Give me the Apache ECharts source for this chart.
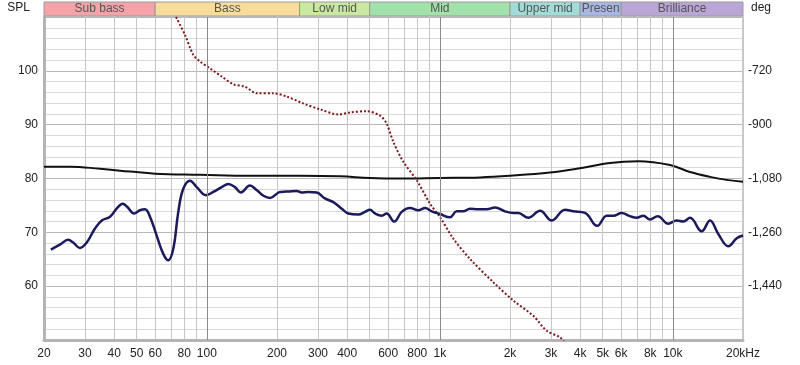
<!DOCTYPE html>
<html>
<head>
<meta charset="utf-8">
<script src="https://cdn.jsdelivr.net/npm/echarts@6/dist/echarts.min.js"></script>
<style>html,body{margin:0;padding:0;background:#fff}#c{width:800px;height:365px}</style>
</head>
<body>
<div id="c"></div>
<script>
// Frequency (Hz) and SPL (dB) of measured response
const splFreq = [21.4,23.4,25.4,26.7,28.5,30.5,33.1,35.4,38.4,41.0,43.5,45.6,48.7,51.6,54.3,57.0,60.9,65.0,68.3,71.8,75.4,79.2,84.7,90.5,99.2,106.6,115.8,123.6,132,140,153,164,175,187,203,209,224,243,255,272,296,321,349,379,405,447,477,501,527,563,591,637,686,745,808,864,923,1001,1105,1181,1261,1347,1462,1589,1725,1903,2066,2171,2396,2690,3020,3444,3738,4196,4738,5200,5550,6032,6546,6998,7468,7979,8610,9560,10388,11086,11846,13296,14436,15668,17298,18796,20000];
const splValues = [66.8,67.7,68.6,68.1,67.1,68.1,70.7,72.2,72.9,74.4,75.3,74.7,73.5,74.1,74.3,72.9,69.4,66.0,64.8,67.0,73.8,78.1,79.6,78.4,76.9,77.5,78.4,79.0,78.4,77.4,78.7,77.8,76.8,76.4,77.4,77.5,77.6,77.7,77.4,77.5,77.4,76.3,75.6,74.4,73.5,73.3,73.8,74.2,73.5,73.1,73.5,72.0,73.8,74.5,74.1,74.5,73.9,73.4,72.8,73.9,73.9,74.4,74.3,74.3,74.6,73.9,73.6,73.6,72.7,74.0,72.2,74.2,73.9,73.6,71.2,73.1,73.1,73.6,73.0,72.7,73.1,72.4,73.0,71.6,72.2,72.0,72.7,70.2,72.2,69.7,67.4,68.9,69.4];

// Smooth reference level curve
const levelFreq = [20,25.9,34.8,46.8,59.9,93.5,153,251,373,501,674,1001,1487,2000,2970,3866,5374,7106,9720,11846,14436,17300,20000];
const levelValues = [82.2,82.2,81.8,81.3,80.9,80.7,80.5,80.5,80.4,80.1,80.0,80.1,80.2,80.5,81.1,81.8,82.9,83.2,82.5,81.2,80.3,79.7,79.4];

// Phase (deg)
const phaseFreq = [73.7,80.6,87.5,93.5,103.2,115.8,129.9,145.8,164,192.8,220,259,306,367,412,485,554,591,631,697,796,907,1001,1142,1347,1696,2066,2518,2874,3278,3444];
const phaseValues = [-540,-600,-667,-689,-712,-739,-765,-773,-795,-795,-806,-829,-849,-866,-859,-855,-870,-896,-957,-1024,-1086,-1164,-1209,-1281,-1349,-1427,-1488,-1539,-1589,-1611,-1630];

// Frequency bands
const bandNames = ['Sub bass','Bass','Low mid','Mid','Upper mid','Presen','Brilliance'];
const bandEdges = [20,60,250,500,2000,4000,6000,20000];
const bandColors = ['#f5a3a8','#f8dc9c','#c9e8a2','#a2e2aa','#a2dcd8','#a8b6e4','#b9a6d6'];

// Axis ticks
const xLabelValues = [20,30,40,50,60,80,100,200,300,400,600,800,1000,2000,3000,4000,5000,6000,8000,10000,20000];
const xGridValues = [30,40,50,60,70,80,90,200,300,400,500,600,700,800,900,2000,3000,4000,5000,6000,7000,8000,9000];
const xDecades = [100,1000,10000];

const zip = (a, b) => a.map((v, i) => [v, b[i]]);
const font = 'Liberation Sans, Arial, sans-serif';

const chart = echarts.init(document.getElementById('c'), null, {renderer: 'canvas'});
chart.setOption({
  animation: false,
  backgroundColor: '#fff',
  textStyle: {fontFamily: font},
  grid: [
    {left: 44, right: 57, top: 17, bottom: 25, show: true, borderColor: '#b0b0b0', borderWidth: 1},
    {left: 44, right: 57, top: 2, height: 14}
  ],
  xAxis: [
    {
      type: 'log', logBase: 10, min: 20, max: 20000, gridIndex: 0,
      axisLine: {show: true, lineStyle: {color: '#b4b4b4', width: 3}},
      axisTick: {show: false, customValues: xGridValues},
      axisLabel: {
        customValues: xLabelValues, color: '#222', fontSize: 12, margin: 8, fontFamily: font,
        formatter: v => v >= 20000 ? '20kHz' : (v >= 1000 ? (v / 1000) + 'k' : String(v))
      },
      splitLine: {show: true, lineStyle: {color: '#c6c6c6', width: 1}},
      minorSplitLine: {show: false}
    },
    {type: 'log', logBase: 10, min: 20, max: 20000, gridIndex: 1, show: false}
  ],
  yAxis: [
    {
      type: 'value', min: 50, max: 110, interval: 10, gridIndex: 0,
      name: 'SPL', nameLocation: 'end', nameGap: 3,
      nameTextStyle: {color: '#222', fontSize: 12, align: 'right', padding: [0, 14, 0, 0], fontFamily: font},
      axisLine: {show: true, lineStyle: {color: '#b4b4b4', width: 3}},
      axisTick: {show: false},
      axisLabel: {color: '#222', fontSize: 12, margin: 6, showMinLabel: false, showMaxLabel: false, fontFamily: font},
      splitLine: {show: true, lineStyle: {color: '#b8b8b8', width: 1}},
      minorTick: {show: false, splitNumber: 5},
      minorSplitLine: {show: true, lineStyle: {color: '#d9d9d9', width: 1}}
    },
    {
      type: 'value', min: -1620, max: -540, interval: 180, gridIndex: 0, position: 'right',
      name: 'deg', nameLocation: 'end', nameGap: 3,
      nameTextStyle: {color: '#222', fontSize: 12, align: 'left', padding: [0, 0, 0, 8], fontFamily: font},
      axisLine: {show: true, lineStyle: {color: '#c8c8c8', width: 2}},
      axisTick: {show: false},
      axisLabel: {color: '#222', fontSize: 12, margin: 5, showMinLabel: false, showMaxLabel: false, fontFamily: font,
        formatter: v => v.toLocaleString('en-US')},
      splitLine: {show: false}
    },
    {type: 'value', min: 0, max: 1, gridIndex: 1, show: false}
  ],
  series: [
    {
      type: 'line', xAxisIndex: 0, yAxisIndex: 0, data: [], silent: true,
      markLine: {
        silent: true, symbol: 'none', label: {show: false},
        lineStyle: {color: '#8a8a8a', width: 1, type: 'solid'},
        data: xDecades.map(v => ({xAxis: v}))
      }
    },
    {
      type: 'line', xAxisIndex: 1, yAxisIndex: 2, data: [], silent: true,
      markArea: {
        silent: true,
        label: {show: true, position: 'inside', color: '#555', fontSize: 12, fontFamily: font},
        itemStyle: {borderColor: '#9a9a9a', borderWidth: 1},
        data: bandNames.map((n, i) => [
          {name: n, xAxis: bandEdges[i], yAxis: 0, itemStyle: {color: bandColors[i], borderColor: '#9a9a9a', borderWidth: 1}},
          {xAxis: bandEdges[i + 1], yAxis: 1}
        ])
      }
    },
    {
      name: 'Level', type: 'line', xAxisIndex: 0, yAxisIndex: 0, smooth: 0.4, showSymbol: false,
      data: zip(levelFreq, levelValues), lineStyle: {color: '#111', width: 2}
    },
    {
      name: 'Phase', type: 'line', xAxisIndex: 0, yAxisIndex: 1, smooth: 0.3, showSymbol: false,
      data: zip(phaseFreq, phaseValues), lineStyle: {color: '#7a1c1c', width: 2, type: [2, 2]}
    },
    {
      name: 'SPL', type: 'line', xAxisIndex: 0, yAxisIndex: 0, smooth: 0.4, showSymbol: false,
      data: zip(splFreq, splValues), lineStyle: {color: '#1b1b5c', width: 2.5}
    }
  ]
});
</script>
</body>
</html>
